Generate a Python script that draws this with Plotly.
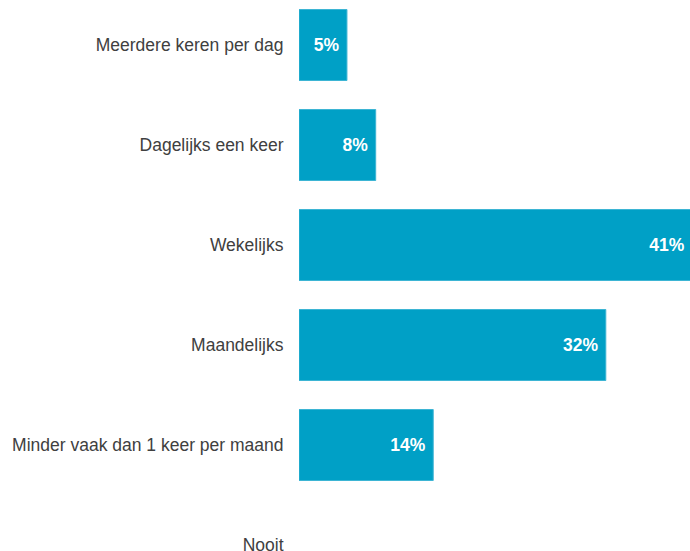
import plotly.graph_objects as go

categories = [
    "Meerdere keren per dag",
    "Dagelijks een keer",
    "Wekelijks",
    "Maandelijks",
    "Minder vaak dan 1 keer per maand",
    "Nooit",
]
values = [5, 8, 41, 32, 14, 0]
value_labels = ["5%", "8%", "41%", "32%", "14%", ""]

FONT = "Liberation Sans, Arial, sans-serif"

line_widths = [1 if v > 0 else 0 for v in values]

fig = go.Figure(
    go.Bar(
        x=values,
        y=categories,
        orientation="h",
        marker=dict(color="#00A0C6", line=dict(color="#3DB5D4", width=line_widths)),
        text=value_labels,
        texttemplate="%{text}\u00a0",
        textposition="inside",
        insidetextanchor="end",
        textfont=dict(color="white", size=17.5, family=FONT, weight="bold"),
        cliponaxis=False,
        hoverinfo="skip",
    )
)

fig.update_layout(
    width=694,
    height=551,
    margin=dict(l=299, r=0, t=0, b=0, autoexpand=False),
    paper_bgcolor="white",
    plot_bgcolor="white",
    bargap=0.29,
    showlegend=False,
    font=dict(family=FONT, size=17.5, color="#404040"),
    uniformtext=dict(minsize=17, mode="show"),
)
fig.update_xaxes(range=[0, 41.2], visible=False, fixedrange=True, automargin=False)
fig.update_yaxes(
    categoryorder="array",
    categoryarray=categories,
    range=[5.06, -0.45],
    automargin=False,
    showgrid=False,
    showline=False,
    zeroline=False,
    ticks="outside",
    ticklen=11,
    tickcolor="rgba(0,0,0,0)",
    tickfont=dict(size=17.5, color="#404040", family=FONT),
    fixedrange=True,
)

fig.write_html(
    "out.html",
    config={"displayModeBar": False, "staticPlot": True},
    post_script="document.body.style.margin='0';document.body.style.overflow='hidden';",
)
